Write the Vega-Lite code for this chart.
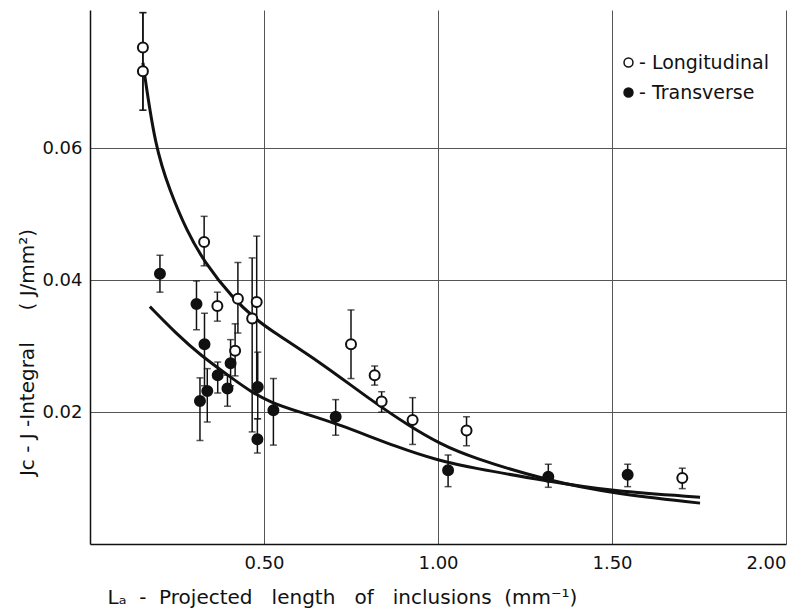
{
  "$schema": "https://vega.github.io/schema/vega-lite/v6.json",
  "width": 696,
  "height": 534,
  "autosize": {"type": "none"},
  "padding": {"left": 90, "top": 10, "right": 21, "bottom": 68},
  "background": "white",
  "config": {
    "view": {"stroke": null},
    "font": "DejaVu Sans",
    "axis": {"labelColor": "#111", "titleColor": "#111", "labelFont": "DejaVu Sans", "titleFont": "DejaVu Sans"}
  },
  "datasets": {
    "points": [
      {"type": "Longitudinal", "x": 0.152, "y": 0.0753, "lo": 0.0658, "hi": 0.0806},
      {"type": "Longitudinal", "x": 0.152, "y": 0.0717, "lo": 0.0658, "hi": 0.0806},
      {"type": "Longitudinal", "x": 0.328, "y": 0.0458, "lo": 0.0422, "hi": 0.0497},
      {"type": "Longitudinal", "x": 0.366, "y": 0.0361, "lo": 0.0338, "hi": 0.0382},
      {"type": "Longitudinal", "x": 0.425, "y": 0.0372, "lo": 0.0320, "hi": 0.0427},
      {"type": "Longitudinal", "x": 0.479, "y": 0.0367, "lo": 0.0230, "hi": 0.0467},
      {"type": "Longitudinal", "x": 0.466, "y": 0.0342, "lo": 0.0170, "hi": 0.0434},
      {"type": "Longitudinal", "x": 0.417, "y": 0.0293, "lo": 0.0255, "hi": 0.0334},
      {"type": "Longitudinal", "x": 0.750, "y": 0.0303, "lo": 0.0251, "hi": 0.0355},
      {"type": "Longitudinal", "x": 0.818, "y": 0.0256, "lo": 0.0241, "hi": 0.0270},
      {"type": "Longitudinal", "x": 0.838, "y": 0.0216, "lo": 0.0200, "hi": 0.0231},
      {"type": "Longitudinal", "x": 0.927, "y": 0.0188, "lo": 0.0151, "hi": 0.0222},
      {"type": "Longitudinal", "x": 1.082, "y": 0.0172, "lo": 0.0149, "hi": 0.0193},
      {"type": "Longitudinal", "x": 1.702, "y": 0.0100, "lo": 0.0084, "hi": 0.0115},
      {"type": "Transverse", "x": 0.201, "y": 0.0410, "lo": 0.0382, "hi": 0.0438},
      {"type": "Transverse", "x": 0.306, "y": 0.0364, "lo": 0.0325, "hi": 0.0399},
      {"type": "Transverse", "x": 0.329, "y": 0.0303, "lo": 0.0240, "hi": 0.0350},
      {"type": "Transverse", "x": 0.404, "y": 0.0274, "lo": 0.0240, "hi": 0.0310},
      {"type": "Transverse", "x": 0.367, "y": 0.0256, "lo": 0.0229, "hi": 0.0276},
      {"type": "Transverse", "x": 0.395, "y": 0.0236, "lo": 0.0209, "hi": 0.0256},
      {"type": "Transverse", "x": 0.337, "y": 0.0232, "lo": 0.0185, "hi": 0.0266},
      {"type": "Transverse", "x": 0.316, "y": 0.0217, "lo": 0.0157, "hi": 0.0252},
      {"type": "Transverse", "x": 0.482, "y": 0.0238, "lo": 0.0190, "hi": 0.0291},
      {"type": "Transverse", "x": 0.481, "y": 0.0159, "lo": 0.0138, "hi": 0.0190},
      {"type": "Transverse", "x": 0.527, "y": 0.0203, "lo": 0.0150, "hi": 0.0251},
      {"type": "Transverse", "x": 0.706, "y": 0.0193, "lo": 0.0165, "hi": 0.0219},
      {"type": "Transverse", "x": 1.029, "y": 0.0112, "lo": 0.0087, "hi": 0.0135},
      {"type": "Transverse", "x": 1.317, "y": 0.0102, "lo": 0.0086, "hi": 0.0121},
      {"type": "Transverse", "x": 1.545, "y": 0.0105, "lo": 0.0087, "hi": 0.0121}
    ],
    "curves": [
      {"type": "Longitudinal", "x": 0.152, "y": 0.0730},
      {"type": "Longitudinal", "x": 0.187, "y": 0.0602},
      {"type": "Longitudinal", "x": 0.230, "y": 0.0535},
      {"type": "Longitudinal", "x": 0.278, "y": 0.0475},
      {"type": "Longitudinal", "x": 0.328, "y": 0.0428},
      {"type": "Longitudinal", "x": 0.411, "y": 0.0372},
      {"type": "Longitudinal", "x": 0.479, "y": 0.0340},
      {"type": "Longitudinal", "x": 0.517, "y": 0.0325},
      {"type": "Longitudinal", "x": 0.661, "y": 0.0276},
      {"type": "Longitudinal", "x": 0.805, "y": 0.0219},
      {"type": "Longitudinal", "x": 0.920, "y": 0.0178},
      {"type": "Longitudinal", "x": 1.006, "y": 0.0152},
      {"type": "Longitudinal", "x": 1.092, "y": 0.0132},
      {"type": "Longitudinal", "x": 1.322, "y": 0.0095},
      {"type": "Longitudinal", "x": 1.502, "y": 0.0077},
      {"type": "Longitudinal", "x": 1.753, "y": 0.0062},
      {"type": "Transverse", "x": 0.172, "y": 0.0360},
      {"type": "Transverse", "x": 0.250, "y": 0.0318},
      {"type": "Transverse", "x": 0.316, "y": 0.0287},
      {"type": "Transverse", "x": 0.412, "y": 0.0250},
      {"type": "Transverse", "x": 0.460, "y": 0.0232},
      {"type": "Transverse", "x": 0.517, "y": 0.0215},
      {"type": "Transverse", "x": 0.603, "y": 0.0200},
      {"type": "Transverse", "x": 0.709, "y": 0.0183},
      {"type": "Transverse", "x": 0.891, "y": 0.0145},
      {"type": "Transverse", "x": 1.000, "y": 0.0127},
      {"type": "Transverse", "x": 1.092, "y": 0.0116},
      {"type": "Transverse", "x": 1.320, "y": 0.0095},
      {"type": "Transverse", "x": 1.500, "y": 0.0080},
      {"type": "Transverse", "x": 1.753, "y": 0.0071}
    ]
  },
  "layer": [
    {
      "data": {"name": "curves"},
      "mark": {"type": "line", "color": "#111", "strokeWidth": 3, "interpolate": "basis"},
      "encoding": {
        "x": {
          "field": "x", "type": "quantitative",
          "title": "Lₐ\u00a0\u00a0-\u00a0\u00a0Projected\u00a0\u00a0\u00a0length\u00a0\u00a0\u00a0of\u00a0\u00a0\u00a0inclusions\u00a0\u00a0(mm⁻¹)",
          "scale": {"domain": [0, 2], "nice": false, "zero": false},
          "axis": {
            "values": [0.5, 1, 1.5, 2], "format": ".2f",
            "labelFontSize": 18, "labelPadding": 10, "ticks": false,
            "grid": true, "gridColor": "#555", "gridWidth": 1,
            "domainColor": "#111", "domainWidth": 1.5,
            "titleFontSize": 20, "titleFontWeight": "normal",
            "titleAnchor": "start", "titleAlign": "left", "titleX": 17, "titleY": 59, "titleBaseline": "alphabetic"
          }
        },
        "y": {
          "field": "y", "type": "quantitative",
          "title": "Jc\u00a0-\u00a0J\u00a0-Integral\u00a0\u00a0\u00a0\u00a0\u00a0(\u00a0J/mm²)",
          "scale": {"domain": [0, 0.081], "nice": false, "zero": false},
          "axis": {
            "values": [0.02, 0.04, 0.06], "format": ".2f",
            "labelFontSize": 18, "labelPadding": 8, "ticks": false,
            "grid": true, "gridColor": "#555", "gridWidth": 1,
            "domainColor": "#111", "domainWidth": 1.5,
            "titleFontSize": 20, "titleFontWeight": "normal",
            "titleAngle": 270, "titleX": -63, "titleY": 342, "titleAlign": "center", "titleBaseline": "middle"
          }
        },
        "detail": {"field": "type"}
      }
    },
    {
      "mark": {"type": "rule", "color": "#333", "strokeWidth": 1},
      "encoding": {"y": {"datum": 0.081}}
    },
    {
      "data": {"name": "points"},
      "mark": {"type": "errorbar", "ticks": {"size": 7, "thickness": 1.5}, "rule": {"strokeWidth": 1.5}, "color": "#111"},
      "encoding": {
        "x": {"field": "x", "type": "quantitative", "title": "Lₐ\u00a0\u00a0-\u00a0\u00a0Projected\u00a0\u00a0\u00a0length\u00a0\u00a0\u00a0of\u00a0\u00a0\u00a0inclusions\u00a0\u00a0(mm⁻¹)"},
        "y": {"field": "lo", "type": "quantitative", "title": "Jc\u00a0-\u00a0J\u00a0-Integral\u00a0\u00a0\u00a0\u00a0\u00a0(\u00a0J/mm²)"},
        "y2": {"field": "hi"}
      }
    },
    {
      "data": {"name": "points"},
      "mark": {"type": "point", "filled": true, "size": 100, "stroke": "#111", "strokeWidth": 2, "opacity": 1, "shape": "circle"},
      "encoding": {
        "x": {"field": "x", "type": "quantitative", "title": "Lₐ\u00a0\u00a0-\u00a0\u00a0Projected\u00a0\u00a0\u00a0length\u00a0\u00a0\u00a0of\u00a0\u00a0\u00a0inclusions\u00a0\u00a0(mm⁻¹)"},
        "y": {"field": "y", "type": "quantitative", "title": "Jc\u00a0-\u00a0J\u00a0-Integral\u00a0\u00a0\u00a0\u00a0\u00a0(\u00a0J/mm²)"},
        "fill": {
          "field": "type", "type": "nominal",
          "scale": {"domain": ["Longitudinal", "Transverse"], "range": ["white", "#111"]},
          "legend": {
            "title": null, "orient": "none", "legendX": 529, "legendY": 43,
            "padding": 0, "rowPadding": 10, "labelFontSize": 19, "labelOffset": 1,
            "labelColor": "#111", "symbolSize": 80, "symbolStrokeColor": "#111", "symbolStrokeWidth": 1.5,
            "symbolType": "circle", "labelExpr": "'- ' + datum.label"
          }
        }
      }
    }
  ]
}
